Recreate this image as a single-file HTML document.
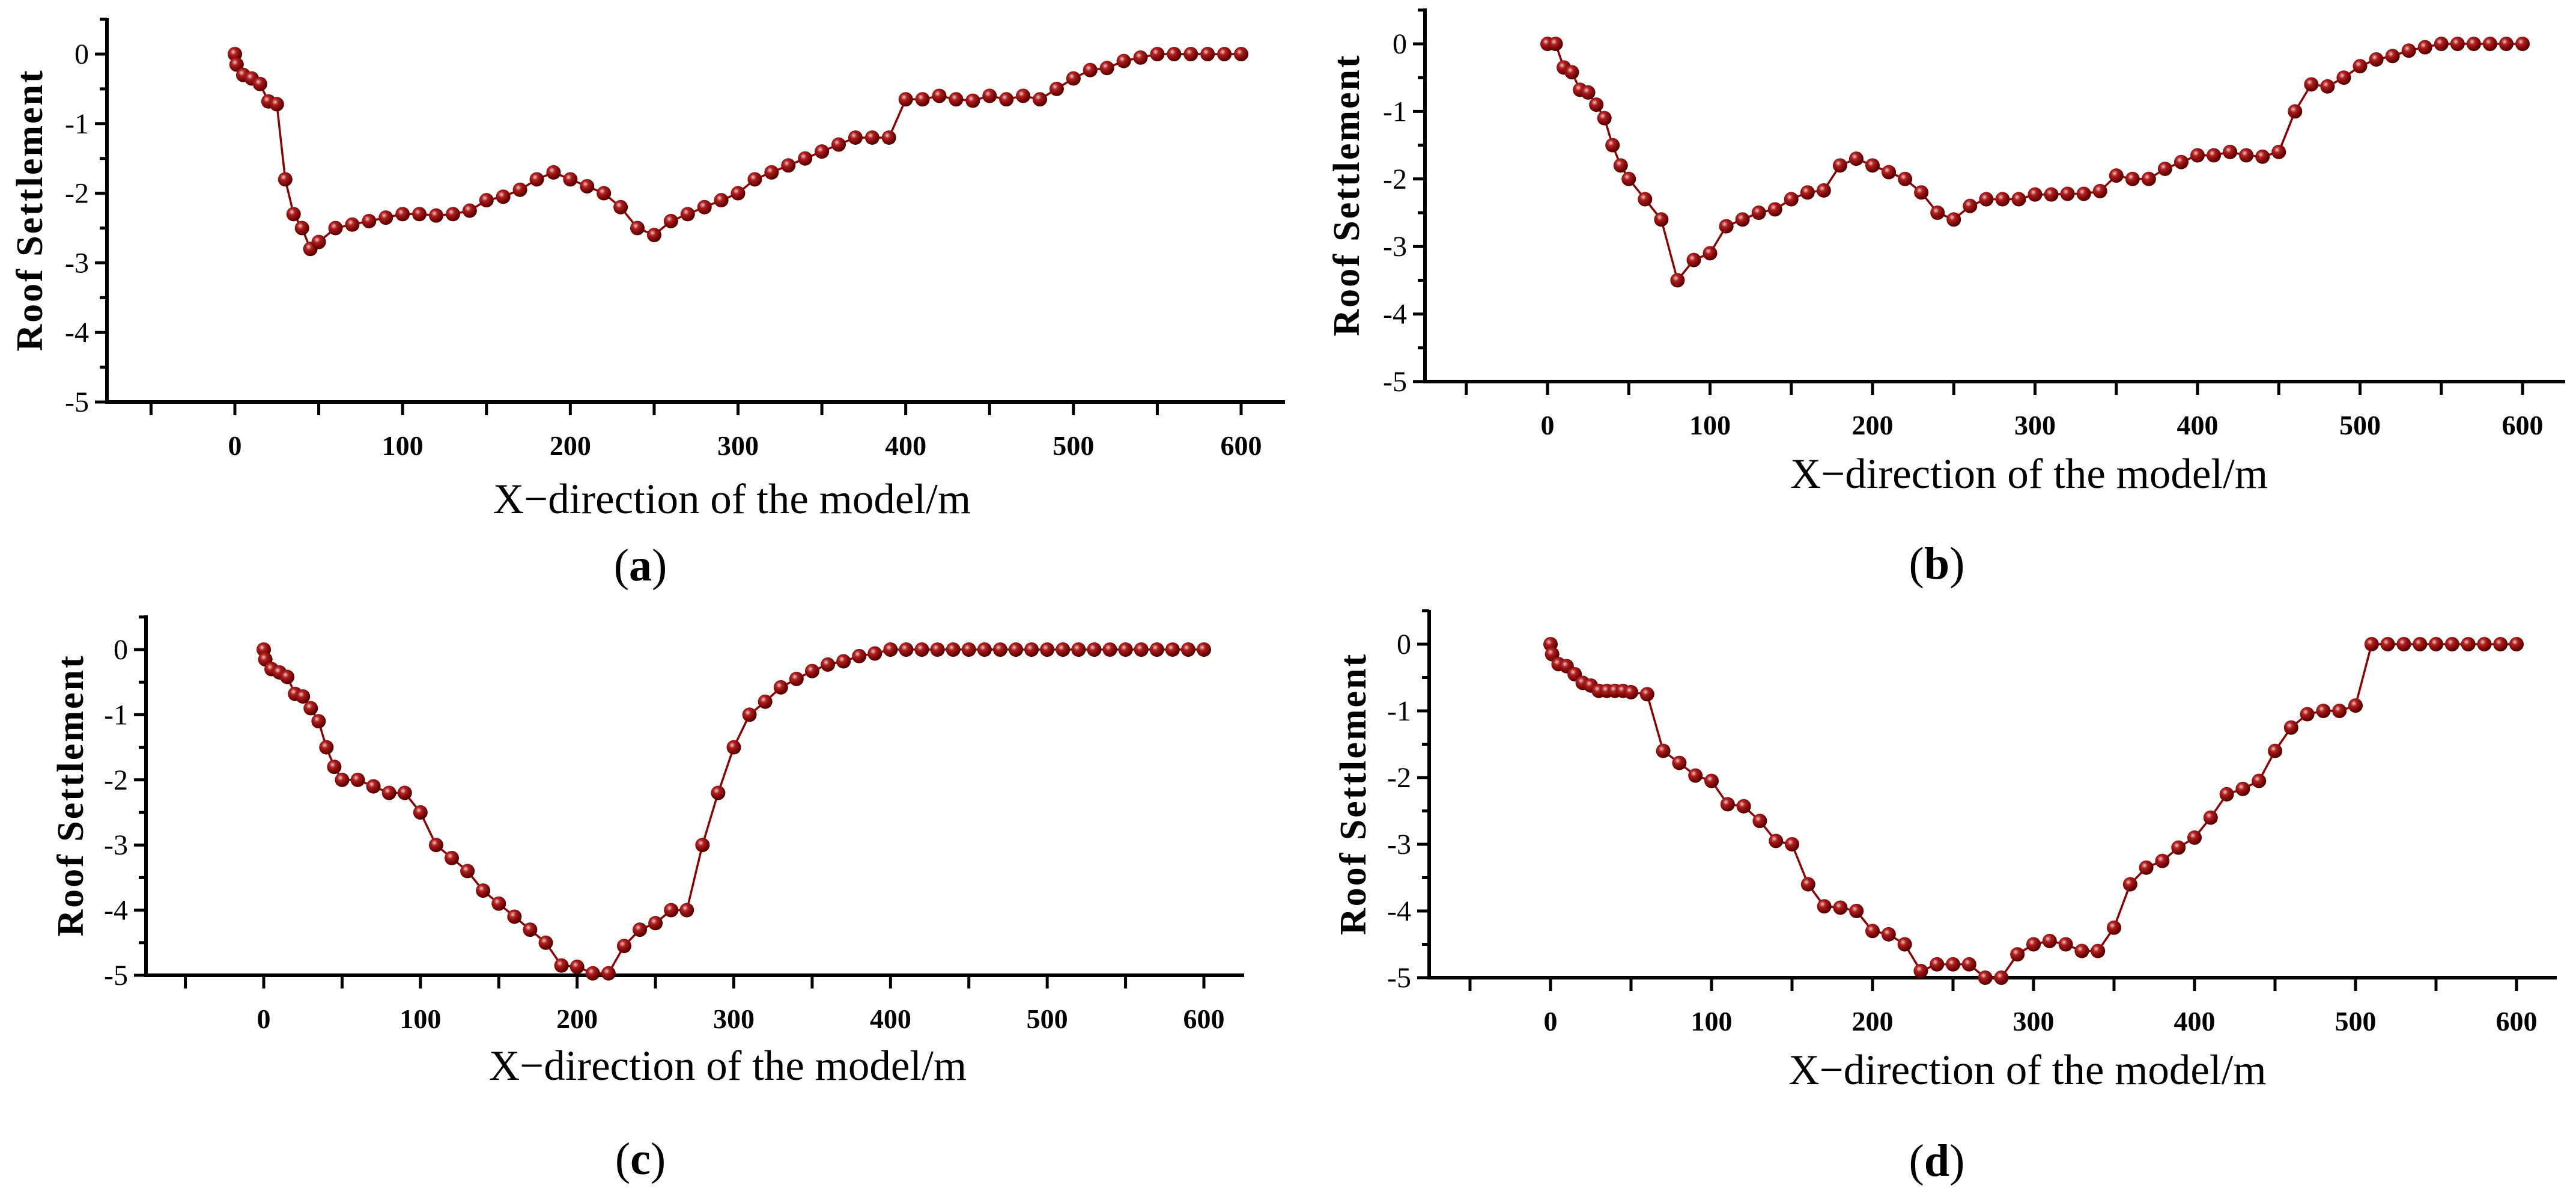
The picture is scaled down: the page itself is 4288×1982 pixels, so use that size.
<!DOCTYPE html>
<html><head><meta charset="utf-8"><style>
html,body{margin:0;padding:0;background:#fff;}
svg{display:block;font-family:"Liberation Serif",serif;}
</style></head><body>
<svg id="fig" width="4288" height="1982" viewBox="0 0 4288 1982" xmlns="http://www.w3.org/2000/svg">
<defs>
<radialGradient id="ball" cx="0.38" cy="0.35" r="0.7">
<stop offset="0" stop-color="#f2c6c6"/><stop offset="0.3" stop-color="#b02020"/><stop offset="0.8" stop-color="#6a0000"/><stop offset="1" stop-color="#3a0000"/>
</radialGradient>
</defs>
</svg>
<script>
const xA=[0,1,5,10,15,20,25,30,35,40,45,50,60,70,80,90,100,110,120,130,140,150,160,170,180,190,200,210,220,230,240,250,260,270,280,290,300,310,320,330,340,350,360,370,380,390,400,410,420,430,440,450,460,470,480,490,500,510,520,530,540,550,560,570,580,590,600];
const yA=[0,-0.15,-0.3,-0.35,-0.43,-0.68,-0.72,-1.8,-2.3,-2.5,-2.8,-2.7,-2.5,-2.45,-2.4,-2.35,-2.3,-2.3,-2.32,-2.3,-2.25,-2.1,-2.05,-1.95,-1.8,-1.7,-1.8,-1.9,-2.0,-2.2,-2.5,-2.6,-2.4,-2.3,-2.2,-2.1,-2.0,-1.8,-1.7,-1.6,-1.5,-1.4,-1.3,-1.2,-1.2,-1.2,-0.65,-0.65,-0.6,-0.65,-0.67,-0.6,-0.65,-0.6,-0.65,-0.5,-0.35,-0.23,-0.2,-0.1,-0.05,0,0,0,0,0,0];
const xB=[0,5,10,15,20,25,30,35,40,45,50,60,70,80,90,100,110,120,130,140,150,160,170,180,190,200,210,220,230,240,250,260,270,280,290,300,310,320,330,340,350,360,370,380,390,400,410,420,430,440,450,460,470,480,490,500,510,520,530,540,550,560,570,580,590,600];
const yB=[0,0,-0.35,-0.42,-0.68,-0.72,-0.9,-1.1,-1.5,-1.8,-2.0,-2.3,-2.6,-3.5,-3.2,-3.1,-2.7,-2.6,-2.5,-2.45,-2.3,-2.2,-2.17,-1.8,-1.7,-1.8,-1.9,-2.0,-2.2,-2.5,-2.6,-2.4,-2.3,-2.3,-2.3,-2.23,-2.23,-2.22,-2.22,-2.18,-1.95,-2.0,-2.0,-1.85,-1.75,-1.65,-1.65,-1.6,-1.65,-1.67,-1.6,-1.0,-0.6,-0.63,-0.5,-0.33,-0.23,-0.18,-0.1,-0.05,0,0,0,0,0,0];
const xC=[0,1,5,10,15,20,25,30,35,40,45,50,60,70,80,90,100,110,120,130,140,150,160,170,180,190,200,210,220,230,240,250,260,270,280,290,300,310,320,330,340,350,360,370,380,390,400,410,420,430,440,450,460,470,480,490,500,510,520,530,540,550,560,570,580,590,600];
const yC=[0,-0.15,-0.3,-0.35,-0.42,-0.68,-0.72,-0.9,-1.1,-1.5,-1.8,-2.0,-2.0,-2.1,-2.2,-2.2,-2.5,-3.0,-3.2,-3.4,-3.7,-3.9,-4.1,-4.3,-4.5,-4.85,-4.87,-4.97,-4.97,-4.55,-4.3,-4.2,-4.0,-4.0,-3.0,-2.2,-1.5,-1.0,-0.8,-0.58,-0.45,-0.33,-0.23,-0.18,-0.1,-0.06,0,0,0,0,0,0,0,0,0,0,0,0,0,0,0,0,0,0,0,0,0];
const xD=[0,1,5,10,15,20,25,30,35,40,45,50,60,70,80,90,100,110,120,130,140,150,160,170,180,190,200,210,220,230,240,250,260,270,280,290,300,310,320,330,340,350,360,370,380,390,400,410,420,430,440,450,460,470,480,490,500,510,520,530,540,550,560,570,580,590,600];
const yD=[0,-0.15,-0.3,-0.33,-0.45,-0.58,-0.62,-0.7,-0.7,-0.7,-0.7,-0.72,-0.75,-1.6,-1.78,-1.97,-2.05,-2.4,-2.43,-2.65,-2.95,-3.0,-3.6,-3.93,-3.95,-4.0,-4.3,-4.35,-4.5,-4.9,-4.8,-4.8,-4.8,-5.0,-5.0,-4.65,-4.5,-4.45,-4.5,-4.6,-4.6,-4.25,-3.6,-3.35,-3.25,-3.05,-2.9,-2.6,-2.25,-2.17,-2.05,-1.6,-1.25,-1.05,-1.0,-1.0,-0.92,0,0,0,0,0,0,0,0,0,0];
const xTicks=[0,100,200,300,400,500,600];
const yTicks=[0,-1,-2,-3,-4,-5];
const panelLabels=['a','b','c','d'];

const NS='http://www.w3.org/2000/svg';
const svg=document.getElementById('fig');
function mk(tag,attrs,parent){const e=document.createElementNS(NS,tag);for(const k in attrs)e.setAttribute(k,attrs[k]);(parent||svg).appendChild(e);return e;}

const panels=[
 {ax:178,x0:391,x600:2066,y0:90,y5:669,top:30,right:2139,ytx:48,title:163,lab:271,labx:1066,xs:xA,ys:yA},
 {ax:2372,x0:2576,x600:4199,y0:73,y5:635,top:14,right:4270,ytx:2240,title:155,lab:302,labx:3224,xs:xB,ys:yB},
 {ax:243,x0:439,x600:2004,y0:1081,y5:1623,top:1024,right:2071,ytx:116,title:152,lab:305,labx:1066,xs:xC,ys:yC},
 {ax:2379,x0:2581,x600:4189,y0:1072,y5:1627,top:1015,right:4256,ytx:2251,title:155,lab:304,labx:3224,xs:xD,ys:yD}
];
panels.forEach((p,i)=>{
 const g=mk('g',{});
 
 
 const sx=v=>p.x0+(v/600)*(p.x600-p.x0);
 const sy=v=>p.y0+(v/-5)*(p.y5-p.y0);
 const ya=mk('line',{x1:p.ax,y1:p.top,x2:p.ax,y2:p.y5+3,stroke:'#000','stroke-width':6},g);
 
 
 const xa=mk('line',{x1:p.ax-3,y1:p.y5,x2:p.right,y2:p.y5,stroke:'#000','stroke-width':6},g);
 
 
 for(let v=0.5;v>=-5;v-=0.5){const y=sy(v);const major=Math.abs(v%1)<1e-6;
  mk('line',{x1:p.ax-(major?20:12),y1:y,x2:p.ax,y2:y,stroke:'#000','stroke-width':5},g);}
 for(let v=-50;v<=600;v+=50){const x=sx(v);
  mk('line',{x1:x,y1:p.y5,x2:x,y2:p.y5+22,stroke:'#000','stroke-width':5},g);}
 yTicks.forEach(v=>{const t=mk('text',{x:p.ax-30,y:sy(v)+16,'text-anchor':'end','font-size':48},g);t.textContent=String(v);
  
  });
 xTicks.forEach(v=>{const t=mk('text',{x:sx(v),y:p.y5+88,'text-anchor':'middle','font-size':46,'font-weight':'bold'},g);t.textContent=String(v);
  
  });
 const yt=mk('text',{x:0,y:0,'text-anchor':'middle','font-size':62,'font-weight':'bold','letter-spacing':3,transform:`translate(${p.ytx+22},${(p.top+p.y5)/2}) rotate(-90)`},g);
 yt.textContent='Roof Settlement';
 
 
 const xt=mk('text',{x:(p.x0+p.x600)/2-10,y:p.y5+p.title+22,'text-anchor':'middle','font-size':71},g);
 xt.textContent='X\u2212direction of the model/m';
 
 
 const lb=mk('text',{x:p.labx,y:p.y5+p.lab+26,'text-anchor':'middle','font-size':76},g);
 lb.innerHTML='(<tspan font-weight="bold">'+panelLabels[i]+'</tspan>)';
 
 
 const pts=p.xs.map((x,k)=>sx(x).toFixed(1)+','+sy(p.ys[k]).toFixed(1)).join(' ');
 const pl=mk('polyline',{points:pts,fill:'none',stroke:'#8b0000','stroke-width':3.5},g);
 
 
 p.xs.forEach((x,k)=>{const c=mk('circle',{cx:sx(x),cy:sy(p.ys[k]),r:12,fill:'url(#ball)'},g);
  
  });
});
</script>
</body></html>
